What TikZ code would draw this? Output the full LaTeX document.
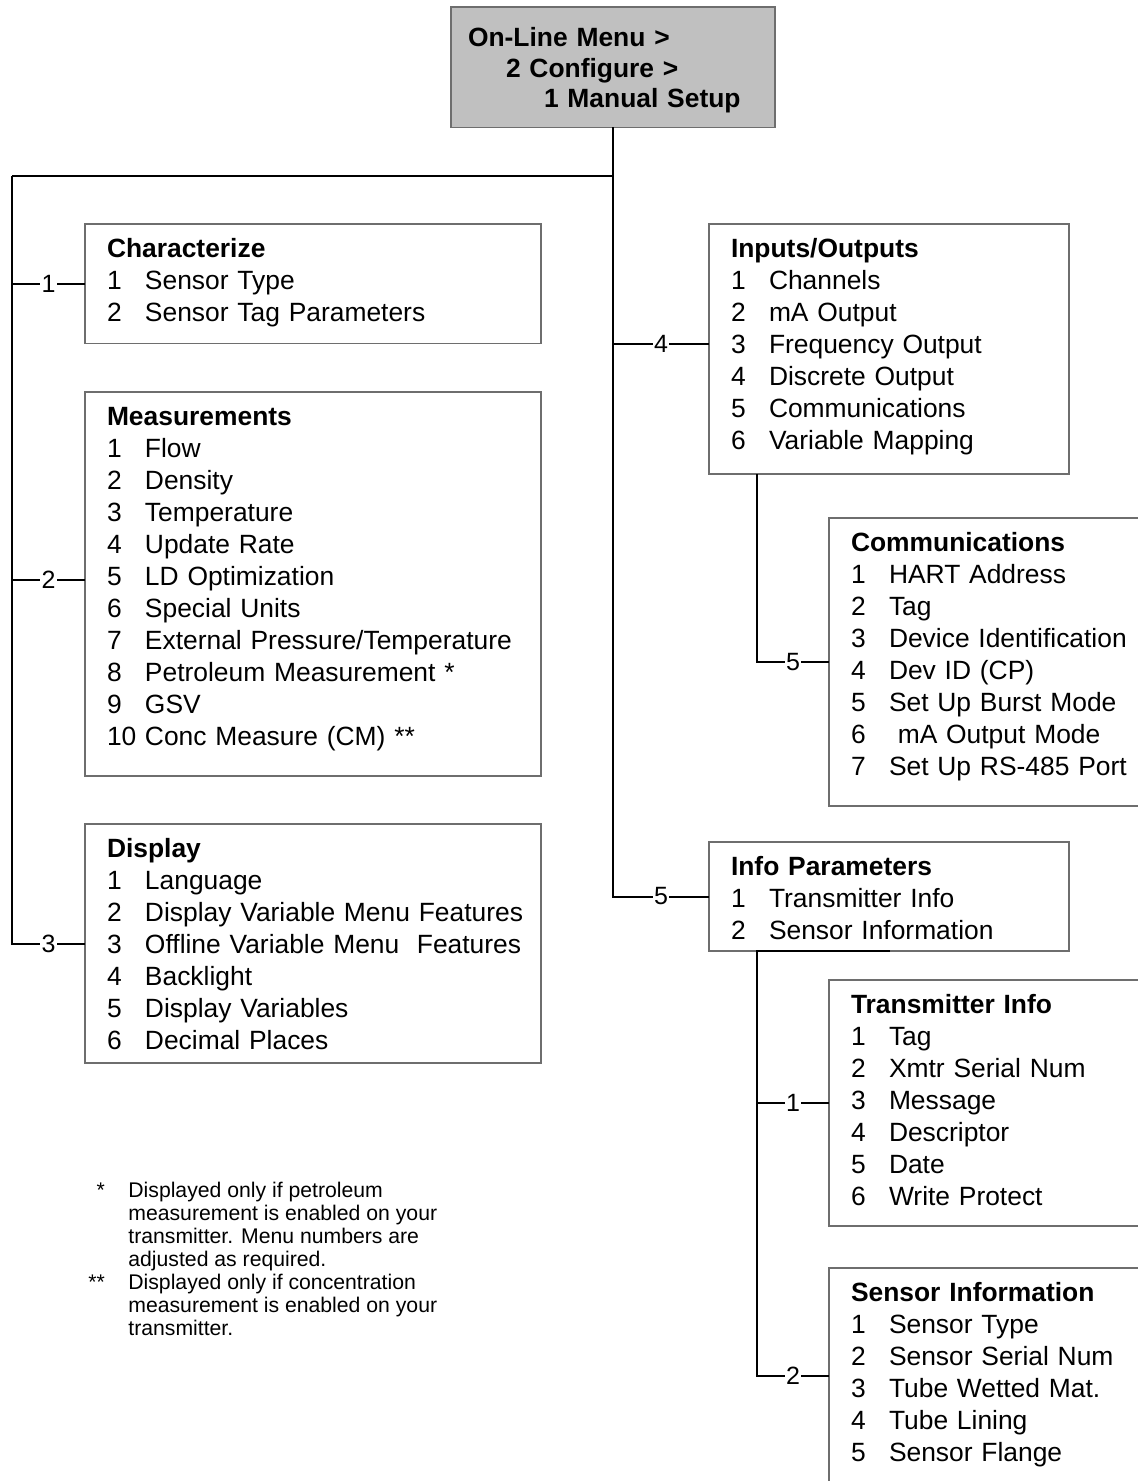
\documentclass[tikz,border=0pt]{standalone}
\usepackage{fontspec}
\setmainfont{Liberation Sans}
\usepackage{xcolor}
\usepackage{tikz}
\usetikzlibrary{positioning}

\definecolor{boxgray}{HTML}{6E6E6E}
\definecolor{headfill}{HTML}{C0C0C0}
\newcommand{\itm}[2]{\mbox{\makebox[19pt][l]{#1}#2}}
\newcommand{\ttl}[1]{\mbox{\bfseries #1}}

\begin{document}
\begin{tikzpicture}[
    x=0.5pt, y=-0.5pt,
    menubox/.style={rectangle, draw=boxgray, line width=0.8pt, anchor=north west, inner xsep=11pt, inner ysep=0pt, outer sep=0pt, align=left, font=\fontsize{13.2pt}{16pt}\selectfont, text height=16.7pt},
    headbox/.style={menubox, fill=headfill, inner xsep=8.5pt, text height=19.75pt, font=\fontsize{13.2pt}{15.3pt}\selectfont\bfseries},
    conn/.style={line width=1pt},
    num/.style={fill=white, inner xsep=0.6pt, inner ysep=0pt, font=\fontsize{12.5pt}{14pt}\selectfont},
    note/.style={inner sep=0pt, anchor=base west, font=\fontsize{10.6pt}{11.5pt}\selectfont},
]
\useasboundingbox[fill=white] (0,0) rectangle (1137,1481);

% Top menu
\node[headbox, text width=145pt, text depth=40.5pt] (top) at (451,7) {On-Line Menu >\\\hspace*{19pt}2 Configure >\\\hspace*{38pt}1 Manual Setup};

% Left column
\node[menubox, text width=206pt, text depth=43.05pt] (chr) at (85,224) {\ttl{Characterize}\\\itm{1}{Sensor Type}\\\itm{2}{Sensor Tag Parameters}};

\node[menubox, text width=206pt, text depth=175.3pt] (meas) at (85,392) {\ttl{Measurements}\\\itm{1}{Flow}\\\itm{2}{Density}\\\itm{3}{Temperature}\\\itm{4}{Update Rate}\\\itm{5}{LD Optimization}\\\itm{6}{Special Units}\\\itm{7}{External Pressure/Temperature}\\\itm{8}{Petroleum Measurement *}\\\itm{9}{GSV}\\\itm{10}{Conc Measure (CM) **}};

\node[menubox, text width=206pt, text depth=102.8pt] (disp) at (85,824) {\ttl{Display}\\\itm{1}{Language}\\\itm{2}{Display Variable Menu Features}\\\itm{3}{Offline Variable Menu\ \ Features}\\\itm{4}{Backlight}\\\itm{5}{Display Variables}\\\itm{6}{Decimal Places}};

% Right column
\node[menubox, text width=158pt, text depth=108.3pt] (io) at (709,224) {\ttl{Inputs/Outputs}\\\itm{1}{Channels}\\\itm{2}{mA Output}\\\itm{3}{Frequency Output}\\\itm{4}{Discrete Output}\\\itm{5}{Communications}\\\itm{6}{Variable Mapping}};

\node[menubox, text width=153.5pt, text depth=127.3pt] (comm) at (829,518) {\ttl{Communications}\\\itm{1}{HART Address}\\\itm{2}{Tag}\\\itm{3}{Device Identification}\\\itm{4}{Dev ID (CP)}\\\itm{5}{Set Up Burst Mode}\\\itm{6}{\ mA Output Mode}\\\itm{7}{Set Up RS-485 Port}};

\node[menubox, text width=158pt, text depth=37.8pt] (info) at (709,842) {\ttl{Info Parameters}\\\itm{1}{Transmitter Info}\\\itm{2}{Sensor Information}};

\node[menubox, text width=153.5pt, text depth=106.3pt] (xmtr) at (829,980) {\ttl{Transmitter Info}\\\itm{1}{Tag}\\\itm{2}{Xmtr Serial Num}\\\itm{3}{Message}\\\itm{4}{Descriptor}\\\itm{5}{Date}\\\itm{6}{Write Protect}};

\node[menubox, text width=153.5pt, text depth=90.8pt] (sens) at (829,1268) {\ttl{Sensor Information}\\\itm{1}{Sensor Type}\\\itm{2}{Sensor Serial Num}\\\itm{3}{Tube Wetted Mat.}\\\itm{4}{Tube Lining}\\\itm{5}{Sensor Flange}};

% Connectors
\coordinate (lft) at (12,176);
\draw[conn] (top.south) |- (lft);
\draw[conn] (lft) |- node[num, pos=0.75] {1} (chr.west);
\draw[conn] (lft) |- node[num, pos=0.75] {2} ([yshift=2pt]meas.west);
\draw[conn] (lft) |- node[num, pos=0.75] {3} (disp.west);
\draw[conn] (top.south) |- node[num, pos=0.75] {4} ([yshift=2.5pt]io.west);
\draw[conn] (top.south) |- node[num, pos=0.75] {5} (info.west);
\draw[conn] ([xshift=24pt]io.south west) |- node[num, pos=0.75] {5} (comm.west);
\draw[conn] ([xshift=90.5pt]info.south west) -- ([xshift=24pt]info.south west) |- node[num, pos=0.75] {1} (xmtr.west);
\draw[conn] ([xshift=24pt]info.south west) |- node[num, pos=0.75] {2} (sens.west);

% Footnotes
\node[note] (notes) at (88,1197) {\begin{tabular}[t]{@{}r@{\hspace{11.75pt}}l@{}}
{*}  & Displayed only if petroleum\\
     & measurement is enabled on your\\
     & transmitter. Menu numbers are\\
     & adjusted as required.\\
{**} & Displayed only if concentration\\
     & measurement is enabled on your\\
     & transmitter.
\end{tabular}};
\end{tikzpicture}
\end{document}
